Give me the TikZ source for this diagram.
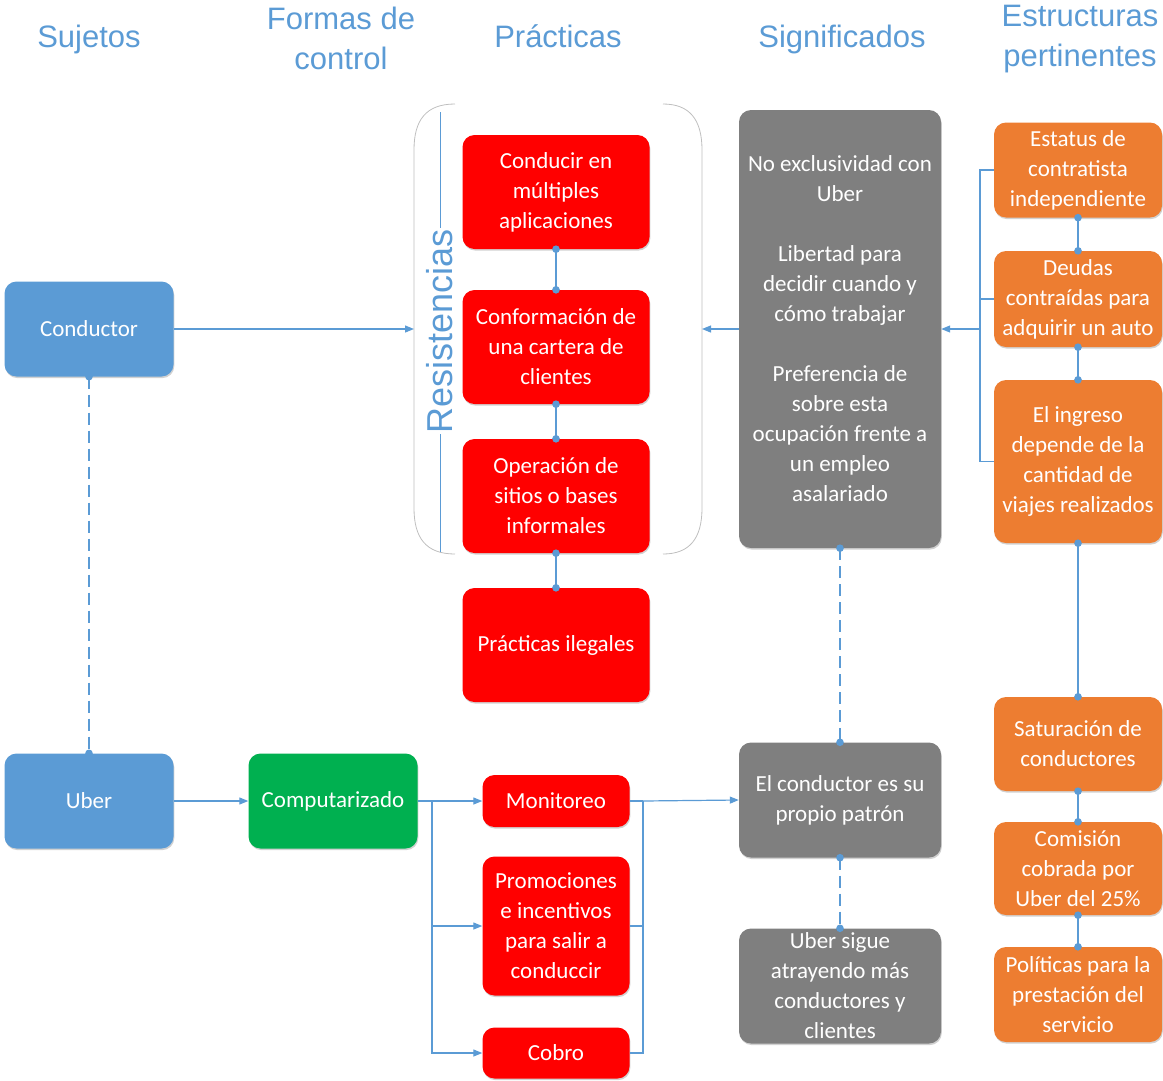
\documentclass[tikz,border=0pt]{standalone}
\usepackage{fontspec}
\setmainfont{Carlito}
\newfontfamily\hdfont{Liberation Sans}
\usetikzlibrary{arrows.meta,shadows}
\definecolor{cblue}{HTML}{5B9BD5}
\definecolor{cgreen}{HTML}{00B050}
\definecolor{cred}{HTML}{FF0000}
\definecolor{cgray}{HTML}{7F7F7F}
\definecolor{corange}{HTML}{ED7D31}
\definecolor{cbrk}{HTML}{BFBFBF}
\newcommand\bxfont{\fontsize{23}{30}\selectfont}
\newcommand\hdsize{\hdfont\fontsize{31}{40}\selectfont}
\tikzset{
  box/.style={rounded corners=12pt, text=white, font=\bxfont, align=center, inner sep=0pt,
    drop shadow={shadow xshift=0.8pt, shadow yshift=-1.6pt, fill=black, opacity=0.18}},
  hdr/.style={text=cblue, font=\hdsize, align=center, inner sep=0pt},
  lnk/.style={draw=cblue, line width=1.2pt},
  arr/.style={lnk, -{Triangle[length=9pt,width=7pt]}},
  dsh/.style={lnk, dash pattern=on 12pt off 6pt},
  brk/.style={draw=cbrk, line width=0.8pt},
}
\newcommand\dotat[1]{\fill[cblue] (#1) circle (3.8pt);}
\begin{document}
\begin{tikzpicture}[x=1pt,y=-1pt]
\useasboundingbox (0,0) rectangle (1163,1080);
% headers
\node[hdr, anchor=base] (h1) at (89,47) {Sujetos};
\node[hdr] (h2) at (341,38) {Formas de\\control};
\node[hdr, anchor=base] (h3) at (558,47) {Prácticas};
\node[hdr, anchor=base] (h4) at (842,47) {Significados};
\node[hdr] (h5) at (1080,39) {Estructuras\\pertinentes};
% bracket
\draw[brk] (455,104) .. controls (426,104) and (414,120) .. (414,150) -- (414,508) .. controls (414,538) and (426,554) .. (455,554);
\draw[brk] (663,104) .. controls (690,104) and (702,120) .. (702,150) -- (702,508) .. controls (702,538) and (690,554) .. (663,554);
\coordinate (brL) at (414,329);
\coordinate (brR) at (702,329);
\node[rotate=90, text=cblue, font=\hdfont\fontsize{36}{40}\selectfont, inner sep=1pt] (res) at (440,331) {Resistencias};
\coordinate (rtop) at (440,112);
\coordinate (rbot) at (440,552);
\draw[lnk, line width=1pt] (res.east) -- (rtop);
\draw[lnk, line width=1pt] (res.west) -- (rbot);
% subjects
\node[box, fill=cblue, minimum width=169, minimum height=95] (cond) at (89,329) {Conductor};
\node[box, fill=cblue, minimum width=169, minimum height=95] (uber) at (89,801) {Uber};
\node[box, fill=cgreen, minimum width=169, minimum height=95] (comp) at (333,801) {Computarizado};
% practices
\node[box, fill=cred, minimum width=187, minimum height=114] (p1) at (556,192) {Conducir en\\múltiples\\aplicaciones};
\node[box, fill=cred, minimum width=187, minimum height=114] (p2) at (556,347) {Conformación de\\una cartera de\\clientes};
\node[box, fill=cred, minimum width=187, minimum height=114] (p3) at (556,496) {Operación de\\sitios o bases\\informales};
\node[box, fill=cred, minimum width=187, minimum height=114] (p4) at (556,645) {Prácticas ilegales};
\node[box, fill=cred, minimum width=147, minimum height=52] (moni) at (556,801) {Monitoreo};
\node[box, fill=cred, minimum width=147, minimum height=139] (promo) at (556,926) {Promociones\\e incentivos\\para salir a\\conduccir};
\node[box, fill=cred, minimum width=147, minimum height=51] (cobro) at (556,1053) {Cobro};
% meanings
\node[box, fill=cgray, minimum width=202, minimum height=438] (sig) at (840,329) {No exclusividad con\\Uber\\[30pt]Libertad para\\decidir cuando y\\cómo trabajar\\[30pt]Preferencia de\\sobre esta\\ocupación frente a\\un empleo\\asalariado};
\node[box, fill=cgray, minimum width=202, minimum height=115] (pat) at (840,800) {El conductor es su\\propio patrón};
\node[box, fill=cgray, minimum width=202, minimum height=115] (sigue) at (840,986) {Uber sigue\\atrayendo más\\conductores y\\clientes};
% structures
\node[box, fill=corange, minimum width=168, minimum height=95] (est) at (1078,170) {Estatus de\\contratista\\independiente};
\node[box, fill=corange, minimum width=168, minimum height=96] (deu) at (1078,299) {Deudas\\contraídas para\\adquirir un auto};
\node[box, fill=corange, minimum width=168, minimum height=163] (ing) at (1078,461.5) {El ingreso\\depende de la\\cantidad de\\viajes realizados};
\node[box, fill=corange, minimum width=168, minimum height=94] (sat) at (1078,744) {Saturación de\\conductores};
\node[box, fill=corange, minimum width=168, minimum height=93] (com) at (1078,868.5) {Comisión\\cobrada por\\Uber del 25\%};
\node[box, fill=corange, minimum width=168, minimum height=95] (pol) at (1078,994.5) {Políticas para la\\prestación del\\servicio};
% connectors
\draw[arr] (cond.east) -- (brL);
\draw[arr] (sig.west) -- (brR);
\draw[dsh] (cond.south) -- (uber.north);
\dotat{cond.south}\dotat{uber.north}
\draw[arr] (uber.east) -- (comp.west);
\coordinate (busL) at (432,801);
\draw[lnk] (comp.east) -- (busL);
\draw[arr] (busL) -- (moni.west);
\draw[arr] (busL) |- (promo.west);
\draw[arr] (busL) |- (cobro.west);
\coordinate (busR) at (643,801);
\draw[lnk] (moni.east) -- (busR);
\draw[lnk] (promo.east) -| (busR);
\draw[lnk] (cobro.east) -| (busR);
\draw[arr] (busR) -- (pat.west);
\foreach \a/\b in {p1/p2,p2/p3,p3/p4,est/deu,deu/ing,ing/sat,sat/com,com/pol}{
  \draw[lnk] (\a.south) -- (\b.north);
  \dotat{\a.south}\dotat{\b.north}
}
\draw[dsh] (sig.south) -- (pat.north);
\dotat{sig.south}\dotat{pat.north}
\draw[dsh] (pat.south) -- (sigue.north);
\dotat{pat.south}\dotat{sigue.north}
\coordinate (obus) at (980,329);
\draw[lnk] (est.west) -| (obus);
\draw[lnk] (ing.west) -| (obus);
\draw[lnk] (deu.west) -- (deu.west -| obus);
\draw[arr] (obus) -- (sig.east);
\end{tikzpicture}
\end{document}
